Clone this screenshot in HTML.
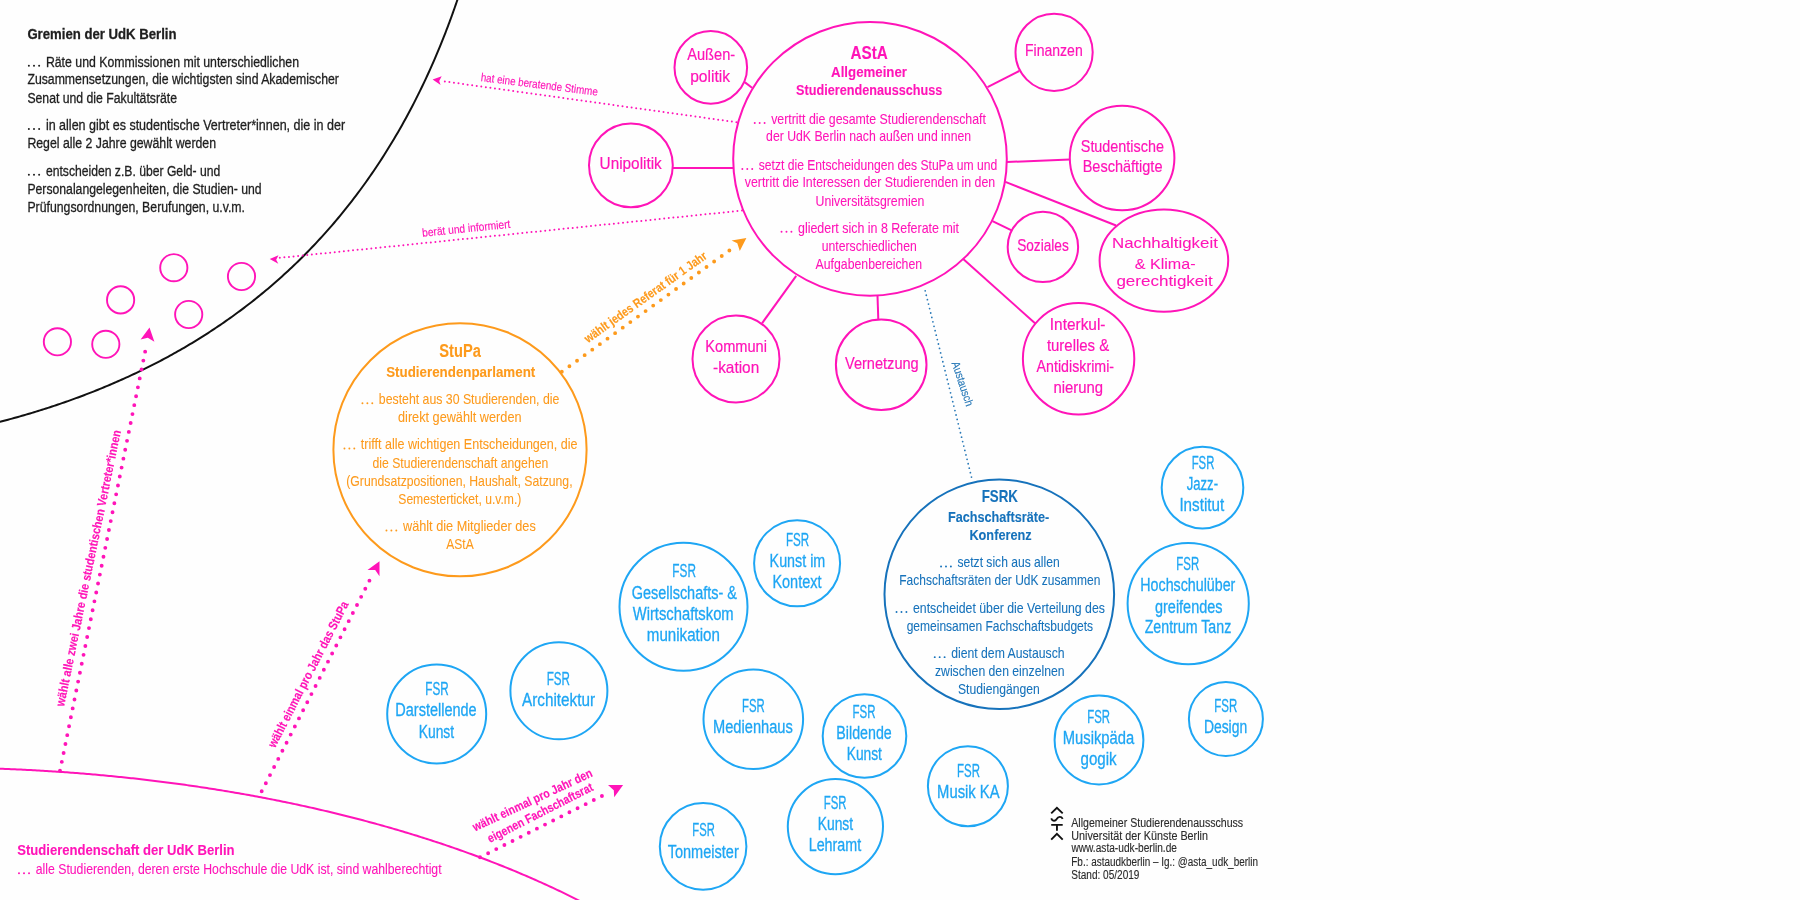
<!DOCTYPE html>
<html><head><meta charset="utf-8"><title>Gremien der UdK Berlin</title>
<style>
html,body{margin:0;padding:0;background:#fff;}
body{width:1800px;height:900px;overflow:hidden;}
svg{display:block;font-family:"Liberation Sans", sans-serif;will-change:transform;}
</style></head><body>
<svg width="1800" height="900" viewBox="0 0 1800 900">
<rect width="1800" height="900" fill="#fefefe"/>
<path d="M460.00,-7.92 L459.50,-6.41 L459.00,-4.91 L458.50,-3.42 L458.00,-1.93 L457.50,-0.46 L457.00,1.01 L456.50,2.47 L456.00,3.92 L455.50,5.36 L455.00,6.79 L454.50,8.22 L454.00,9.63 L453.50,11.04 L453.00,12.44 L452.50,13.84 L452.00,15.22 L451.50,16.60 L451.00,17.97 L450.50,19.33 L450.00,20.68 L449.50,22.03 L449.00,23.37 L448.50,24.70 L448.00,26.03 L447.50,27.35 L447.00,28.66 L446.50,29.96 L446.00,31.26 L445.50,32.55 L445.00,33.84 L444.50,35.11 L444.00,36.39 L443.50,37.65 L443.00,38.91 L442.50,40.16 L442.00,41.41 L441.50,42.65 L441.00,43.88 L440.50,45.11 L440.00,46.33 L438.00,51.16 L436.00,55.90 L434.00,60.55 L432.00,65.11 L430.00,69.59 L428.00,74.00 L426.00,78.33 L424.00,82.58 L422.00,86.77 L420.00,90.88 L418.00,94.93 L416.00,98.91 L414.00,102.84 L412.00,106.70 L410.00,110.50 L408.00,114.24 L406.00,117.93 L404.00,121.56 L402.00,125.15 L400.00,128.68 L398.00,132.16 L396.00,135.59 L394.00,138.97 L392.00,142.31 L390.00,145.60 L388.00,148.85 L386.00,152.06 L384.00,155.22 L382.00,158.35 L380.00,161.43 L378.00,164.47 L376.00,167.48 L374.00,170.45 L372.00,173.38 L370.00,176.27 L368.00,179.13 L366.00,181.96 L364.00,184.75 L362.00,187.51 L360.00,190.23 L358.00,192.92 L356.00,195.59 L354.00,198.22 L352.00,200.82 L350.00,203.39 L348.00,205.94 L346.00,208.45 L344.00,210.94 L342.00,213.40 L340.00,215.83 L338.00,218.24 L336.00,220.62 L334.00,222.98 L332.00,225.31 L330.00,227.61 L328.00,229.89 L326.00,232.15 L324.00,234.38 L322.00,236.59 L320.00,238.78 L318.00,240.94 L316.00,243.09 L314.00,245.21 L312.00,247.31 L310.00,249.38 L308.00,251.44 L306.00,253.48 L304.00,255.49 L302.00,257.49 L300.00,259.47 L298.00,261.43 L296.00,263.37 L294.00,265.29 L292.00,267.19 L290.00,269.07 L288.00,270.94 L286.00,272.78 L284.00,274.61 L282.00,276.42 L280.00,278.22 L278.00,280.00 L276.00,281.76 L274.00,283.50 L272.00,285.23 L270.00,286.95 L268.00,288.64 L266.00,290.33 L264.00,291.99 L262.00,293.64 L260.00,295.28 L258.00,296.90 L256.00,298.50 L254.00,300.10 L252.00,301.67 L250.00,303.24 L248.00,304.78 L246.00,306.32 L244.00,307.84 L242.00,309.35 L240.00,310.84 L238.00,312.32 L236.00,313.79 L234.00,315.24 L232.00,316.69 L230.00,318.12 L228.00,319.53 L226.00,320.94 L224.00,322.33 L222.00,323.71 L220.00,325.08 L218.00,326.43 L216.00,327.78 L214.00,329.11 L212.00,330.43 L210.00,331.74 L208.00,333.04 L206.00,334.32 L204.00,335.60 L202.00,336.86 L200.00,338.12 L198.00,339.36 L196.00,340.59 L194.00,341.81 L192.00,343.02 L190.00,344.23 L188.00,345.42 L186.00,346.60 L184.00,347.77 L182.00,348.93 L180.00,350.08 L178.00,351.22 L176.00,352.35 L174.00,353.47 L172.00,354.58 L170.00,355.69 L168.00,356.78 L166.00,357.86 L164.00,358.94 L162.00,360.00 L160.00,361.06 L158.00,362.11 L156.00,363.15 L154.00,364.18 L152.00,365.20 L150.00,366.21 L148.00,367.21 L146.00,368.21 L144.00,369.19 L142.00,370.17 L140.00,371.14 L138.00,372.11 L136.00,373.06 L134.00,374.01 L132.00,374.94 L130.00,375.87 L128.00,376.80 L126.00,377.71 L124.00,378.62 L122.00,379.51 L120.00,380.41 L118.00,381.29 L116.00,382.16 L114.00,383.03 L112.00,383.89 L110.00,384.75 L108.00,385.59 L106.00,386.43 L104.00,387.26 L102.00,388.09 L100.00,388.91 L98.00,389.72 L96.00,390.52 L94.00,391.32 L92.00,392.11 L90.00,392.89 L88.00,393.67 L86.00,394.44 L84.00,395.20 L82.00,395.96 L80.00,396.71 L78.00,397.45 L76.00,398.18 L74.00,398.92 L72.00,399.64 L70.00,400.36 L68.00,401.07 L66.00,401.77 L64.00,402.47 L62.00,403.16 L60.00,403.85 L58.00,404.53 L56.00,405.20 L54.00,405.87 L52.00,406.54 L50.00,407.19 L48.00,407.84 L46.00,408.49 L44.00,409.13 L42.00,409.76 L40.00,410.39 L38.00,411.01 L36.00,411.62 L34.00,412.23 L32.00,412.84 L30.00,413.44 L28.00,414.03 L26.00,414.62 L24.00,415.20 L22.00,415.78 L20.00,416.35 L18.00,416.92 L16.00,417.48 L14.00,418.04 L12.00,418.59 L10.00,419.13 L8.00,419.67 L6.00,420.21 L4.00,420.74 L2.00,421.26 L0.00,421.78 L-2.00,422.30 L-4.00,422.81" fill="none" stroke="#111" stroke-width="2" stroke-linejoin="round"/>
<path d="M-5.00,768.53 L-3.00,768.60 L-1.00,768.67 L1.00,768.74 L3.00,768.82 L5.00,768.90 L7.00,768.98 L9.00,769.06 L11.00,769.15 L13.00,769.23 L15.00,769.32 L17.00,769.41 L19.00,769.50 L21.00,769.60 L23.00,769.70 L25.00,769.79 L27.00,769.90 L29.00,770.00 L31.00,770.10 L33.00,770.21 L35.00,770.32 L37.00,770.43 L39.00,770.55 L41.00,770.66 L43.00,770.78 L45.00,770.90 L47.00,771.02 L49.00,771.15 L51.00,771.28 L53.00,771.41 L55.00,771.54 L57.00,771.67 L59.00,771.80 L61.00,771.94 L63.00,772.08 L65.00,772.22 L67.00,772.37 L69.00,772.51 L71.00,772.66 L73.00,772.81 L75.00,772.97 L77.00,773.12 L79.00,773.28 L81.00,773.44 L83.00,773.60 L85.00,773.76 L87.00,773.93 L89.00,774.10 L91.00,774.27 L93.00,774.44 L95.00,774.61 L97.00,774.79 L99.00,774.97 L101.00,775.15 L103.00,775.34 L105.00,775.52 L107.00,775.71 L109.00,775.90 L111.00,776.09 L113.00,776.29 L115.00,776.49 L117.00,776.68 L119.00,776.89 L121.00,777.09 L123.00,777.30 L125.00,777.51 L127.00,777.72 L129.00,777.93 L131.00,778.15 L133.00,778.36 L135.00,778.58 L137.00,778.81 L139.00,779.03 L141.00,779.26 L143.00,779.49 L145.00,779.72 L147.00,779.95 L149.00,780.19 L151.00,780.43 L153.00,780.67 L155.00,780.91 L157.00,781.16 L159.00,781.40 L161.00,781.66 L163.00,781.91 L165.00,782.16 L167.00,782.42 L169.00,782.68 L171.00,782.94 L173.00,783.21 L175.00,783.47 L177.00,783.74 L179.00,784.02 L181.00,784.29 L183.00,784.57 L185.00,784.85 L187.00,785.13 L189.00,785.41 L191.00,785.70 L193.00,785.99 L195.00,786.28 L197.00,786.57 L199.00,786.87 L201.00,787.17 L203.00,787.47 L205.00,787.77 L207.00,788.08 L209.00,788.39 L211.00,788.70 L213.00,789.01 L215.00,789.33 L217.00,789.65 L219.00,789.97 L221.00,790.30 L223.00,790.62 L225.00,790.95 L227.00,791.28 L229.00,791.62 L231.00,791.95 L233.00,792.29 L235.00,792.64 L237.00,792.98 L239.00,793.33 L241.00,793.68 L243.00,794.03 L245.00,794.39 L247.00,794.74 L249.00,795.10 L251.00,795.47 L253.00,795.83 L255.00,796.20 L257.00,796.57 L259.00,796.95 L261.00,797.32 L263.00,797.70 L265.00,798.08 L267.00,798.47 L269.00,798.86 L271.00,799.25 L273.00,799.64 L275.00,800.03 L277.00,800.43 L279.00,800.83 L281.00,801.24 L283.00,801.65 L285.00,802.05 L287.00,802.47 L289.00,802.88 L291.00,803.30 L293.00,803.72 L295.00,804.14 L297.00,804.57 L299.00,805.00 L301.00,805.43 L303.00,805.87 L305.00,806.31 L307.00,806.75 L309.00,807.19 L311.00,807.64 L313.00,808.09 L315.00,808.54 L317.00,809.00 L319.00,809.45 L321.00,809.92 L323.00,810.38 L325.00,810.85 L327.00,811.32 L329.00,811.79 L331.00,812.27 L333.00,812.75 L335.00,813.23 L337.00,813.72 L339.00,814.21 L341.00,814.70 L343.00,815.20 L345.00,815.69 L347.00,816.19 L349.00,816.70 L351.00,817.21 L353.00,817.72 L355.00,818.23 L357.00,818.75 L359.00,819.27 L361.00,819.79 L363.00,820.32 L365.00,820.85 L367.00,821.39 L369.00,821.92 L371.00,822.46 L373.00,823.01 L375.00,823.55 L377.00,824.10 L379.00,824.66 L381.00,825.21 L383.00,825.77 L385.00,826.34 L387.00,826.90 L389.00,827.48 L391.00,828.05 L393.00,828.63 L395.00,829.21 L397.00,829.79 L399.00,830.38 L401.00,830.97 L403.00,831.57 L405.00,832.17 L407.00,832.77 L409.00,833.37 L411.00,833.98 L413.00,834.60 L415.00,835.21 L417.00,835.83 L419.00,836.46 L421.00,837.09 L423.00,837.72 L425.00,838.35 L427.00,838.99 L429.00,839.63 L431.00,840.28 L433.00,840.93 L435.00,841.59 L437.00,842.24 L439.00,842.91 L441.00,843.57 L443.00,844.24 L445.00,844.92 L447.00,845.59 L449.00,846.28 L451.00,846.96 L453.00,847.65 L455.00,848.35 L457.00,849.05 L459.00,849.75 L461.00,850.45 L463.00,851.16 L465.00,851.88 L467.00,852.60 L469.00,853.32 L471.00,854.05 L473.00,854.78 L475.00,855.52 L477.00,856.26 L479.00,857.00 L481.00,857.75 L483.00,858.51 L485.00,859.27 L487.00,860.03 L489.00,860.80 L491.00,861.57 L493.00,862.34 L495.00,863.12 L497.00,863.91 L499.00,864.70 L501.00,865.50 L503.00,866.30 L505.00,867.10 L507.00,867.91 L509.00,868.72 L511.00,869.54 L513.00,870.37 L515.00,871.20 L517.00,872.03 L519.00,872.87 L521.00,873.71 L523.00,874.56 L525.00,875.42 L527.00,876.28 L529.00,877.14 L531.00,878.01 L533.00,878.89 L535.00,879.77 L537.00,880.65 L539.00,881.54 L541.00,882.44 L543.00,883.34 L545.00,884.25 L547.00,885.16 L549.00,886.08 L551.00,887.01 L553.00,887.94 L555.00,888.87 L557.00,889.82 L559.00,890.76 L561.00,891.72 L563.00,892.68 L565.00,893.64 L567.00,894.62 L569.00,895.59 L571.00,896.58 L573.00,897.57 L575.00,898.56 L577.00,899.57 L579.00,900.58 L581.00,901.59 L583.00,902.62 L585.00,903.65 L587.00,904.68 L589.00,905.72 L591.00,906.77 L593.00,907.83 L595.00,908.89 L597.00,909.96 L599.00,911.04" fill="none" stroke="#ff14b8" stroke-width="2" stroke-linejoin="round"/>
<text x="27.40" y="39.00" font-size="15" font-weight="bold" fill="#1e1e1e" stroke="#1e1e1e" stroke-width="0.3" textLength="149.13" lengthAdjust="spacingAndGlyphs">Gremien der UdK Berlin</text>
<circle cx="28.90" cy="65.80" r="1.00" fill="#1e1e1e"/>
<circle cx="34.00" cy="65.80" r="1.00" fill="#1e1e1e"/>
<circle cx="39.10" cy="65.80" r="1.00" fill="#1e1e1e"/>
<text x="45.90" y="66.70" font-size="14.7" fill="#1e1e1e" stroke="#1e1e1e" stroke-width="0.3" textLength="253.11" lengthAdjust="spacingAndGlyphs">Räte und Kommissionen mit unterschiedlichen</text>
<text x="27.40" y="84.40" font-size="14.7" fill="#1e1e1e" stroke="#1e1e1e" stroke-width="0.3" textLength="311.50" lengthAdjust="spacingAndGlyphs">Zusammensetzungen, die wichtigsten sind Akademischer</text>
<text x="27.40" y="102.50" font-size="14.7" fill="#1e1e1e" stroke="#1e1e1e" stroke-width="0.3" textLength="149.58" lengthAdjust="spacingAndGlyphs">Senat und die Fakultätsräte</text>
<circle cx="28.90" cy="129.10" r="1.00" fill="#1e1e1e"/>
<circle cx="34.00" cy="129.10" r="1.00" fill="#1e1e1e"/>
<circle cx="39.10" cy="129.10" r="1.00" fill="#1e1e1e"/>
<text x="45.90" y="130.00" font-size="14.7" fill="#1e1e1e" stroke="#1e1e1e" stroke-width="0.3" textLength="299.18" lengthAdjust="spacingAndGlyphs">in allen gibt es studentische Vertreter*innen, die in der</text>
<text x="27.40" y="147.90" font-size="14.7" fill="#1e1e1e" stroke="#1e1e1e" stroke-width="0.3" textLength="188.63" lengthAdjust="spacingAndGlyphs">Regel alle 2 Jahre gewählt werden</text>
<circle cx="28.90" cy="174.80" r="1.00" fill="#1e1e1e"/>
<circle cx="34.00" cy="174.80" r="1.00" fill="#1e1e1e"/>
<circle cx="39.10" cy="174.80" r="1.00" fill="#1e1e1e"/>
<text x="45.90" y="175.70" font-size="14.7" fill="#1e1e1e" stroke="#1e1e1e" stroke-width="0.3" textLength="174.42" lengthAdjust="spacingAndGlyphs">entscheiden z.B. über Geld- und</text>
<text x="27.40" y="193.60" font-size="14.7" fill="#1e1e1e" stroke="#1e1e1e" stroke-width="0.3" textLength="234.27" lengthAdjust="spacingAndGlyphs">Personalangelegenheiten, die Studien- und</text>
<text x="27.40" y="211.50" font-size="14.7" fill="#1e1e1e" stroke="#1e1e1e" stroke-width="0.3" textLength="217.61" lengthAdjust="spacingAndGlyphs">Prüfungsordnungen, Berufungen, u.v.m.</text>
<circle cx="57.4" cy="341.8" r="13.6" fill="none" stroke="#ff14b8" stroke-width="1.9"/>
<circle cx="105.8" cy="344.3" r="13.6" fill="none" stroke="#ff14b8" stroke-width="1.9"/>
<circle cx="120.6" cy="299.9" r="13.6" fill="none" stroke="#ff14b8" stroke-width="1.9"/>
<circle cx="173.8" cy="267.7" r="13.6" fill="none" stroke="#ff14b8" stroke-width="1.9"/>
<circle cx="188.7" cy="314.5" r="13.6" fill="none" stroke="#ff14b8" stroke-width="1.9"/>
<circle cx="241.5" cy="276.5" r="13.6" fill="none" stroke="#ff14b8" stroke-width="1.9"/>
<circle cx="870" cy="158.9" r="136.8" fill="none" stroke="#ff14b8" stroke-width="2"/>
<text x="850.60" y="58.60" font-size="17.5" font-weight="bold" fill="#ff14b8" stroke="#ff14b8" stroke-width="0.1" textLength="37.28" lengthAdjust="spacingAndGlyphs">AStA</text>
<text x="831.10" y="76.70" font-size="14.5" font-weight="bold" fill="#ff14b8" stroke="#ff14b8" stroke-width="0.1" textLength="75.90" lengthAdjust="spacingAndGlyphs">Allgemeiner</text>
<text x="796.10" y="94.60" font-size="14.5" font-weight="bold" fill="#ff14b8" stroke="#ff14b8" stroke-width="0.1" textLength="146.21" lengthAdjust="spacingAndGlyphs">Studierendenausschuss</text>
<circle cx="754.75" cy="123.03" r="0.97" fill="#ff14b8"/>
<circle cx="759.68" cy="123.03" r="0.97" fill="#ff14b8"/>
<circle cx="764.60" cy="123.03" r="0.97" fill="#ff14b8"/>
<text x="771.17" y="123.90" font-size="14.2" fill="#ff14b8" stroke="#ff14b8" stroke-width="0.08" textLength="214.77" lengthAdjust="spacingAndGlyphs">vertritt die gesamte Studierendenschaft</text>
<text x="766.10" y="141.40" font-size="14.2" fill="#ff14b8" stroke="#ff14b8" stroke-width="0.08" textLength="205.00" lengthAdjust="spacingAndGlyphs">der UdK Berlin nach außen und innen</text>
<circle cx="742.35" cy="168.93" r="0.97" fill="#ff14b8"/>
<circle cx="747.28" cy="168.93" r="0.97" fill="#ff14b8"/>
<circle cx="752.20" cy="168.93" r="0.97" fill="#ff14b8"/>
<text x="758.77" y="169.80" font-size="14.2" fill="#ff14b8" stroke="#ff14b8" stroke-width="0.08" textLength="238.47" lengthAdjust="spacingAndGlyphs">setzt die Entscheidungen des StuPa um und</text>
<text x="744.80" y="187.30" font-size="14.2" fill="#ff14b8" stroke="#ff14b8" stroke-width="0.08" textLength="250.41" lengthAdjust="spacingAndGlyphs">vertritt die Interessen der Studierenden in den</text>
<text x="815.60" y="205.60" font-size="14.2" fill="#ff14b8" stroke="#ff14b8" stroke-width="0.08" textLength="108.78" lengthAdjust="spacingAndGlyphs">Universitätsgremien</text>
<circle cx="781.55" cy="231.83" r="0.97" fill="#ff14b8"/>
<circle cx="786.48" cy="231.83" r="0.97" fill="#ff14b8"/>
<circle cx="791.40" cy="231.83" r="0.97" fill="#ff14b8"/>
<text x="797.97" y="232.70" font-size="14.2" fill="#ff14b8" stroke="#ff14b8" stroke-width="0.08" textLength="161.02" lengthAdjust="spacingAndGlyphs">gliedert sich in 8 Referate mit</text>
<text x="821.80" y="250.70" font-size="14.2" fill="#ff14b8" stroke="#ff14b8" stroke-width="0.08" textLength="94.91" lengthAdjust="spacingAndGlyphs">unterschiedlichen</text>
<text x="815.60" y="268.90" font-size="14.2" fill="#ff14b8" stroke="#ff14b8" stroke-width="0.08" textLength="106.47" lengthAdjust="spacingAndGlyphs">Aufgabenbereichen</text>
<circle cx="710.8" cy="67.4" r="36.3" fill="none" stroke="#ff14b8" stroke-width="2"/>
<circle cx="630.9" cy="165.3" r="41.9" fill="none" stroke="#ff14b8" stroke-width="2"/>
<circle cx="1054.1" cy="52.3" r="38.6" fill="none" stroke="#ff14b8" stroke-width="2"/>
<circle cx="1122.1" cy="158" r="52.3" fill="none" stroke="#ff14b8" stroke-width="2"/>
<circle cx="1042.9" cy="246.9" r="35.2" fill="none" stroke="#ff14b8" stroke-width="2"/>
<ellipse cx="1163.9" cy="260.6" rx="64.3" ry="51.1" fill="none" stroke="#ff14b8" stroke-width="2"/>
<circle cx="736" cy="359" r="43.5" fill="none" stroke="#ff14b8" stroke-width="2"/>
<circle cx="881.2" cy="364.8" r="45.3" fill="none" stroke="#ff14b8" stroke-width="2"/>
<circle cx="1078.6" cy="358.8" r="55.7" fill="none" stroke="#ff14b8" stroke-width="2"/>
<line x1="745" y1="82.4" x2="752" y2="87.7" stroke="#ff14b8" stroke-width="2"/>
<line x1="673" y1="167.9" x2="733" y2="167.9" stroke="#ff14b8" stroke-width="2"/>
<line x1="987.5" y1="87.1" x2="1019.2" y2="71" stroke="#ff14b8" stroke-width="2"/>
<line x1="1007" y1="162" x2="1069.8" y2="159.5" stroke="#ff14b8" stroke-width="2"/>
<line x1="1005.3" y1="181.9" x2="1116.1" y2="225.5" stroke="#ff14b8" stroke-width="2"/>
<line x1="992.5" y1="221.2" x2="1011.6" y2="230.4" stroke="#ff14b8" stroke-width="2"/>
<line x1="963.2" y1="258.9" x2="1035.6" y2="323.8" stroke="#ff14b8" stroke-width="2"/>
<line x1="796.2" y1="275.8" x2="762" y2="323.3" stroke="#ff14b8" stroke-width="2"/>
<line x1="877.5" y1="295.8" x2="878.3" y2="319.5" stroke="#ff14b8" stroke-width="2"/>
<text x="687.20" y="60.40" font-size="17" fill="#ff14b8" stroke="#ff14b8" stroke-width="0.2" textLength="47.94" lengthAdjust="spacingAndGlyphs">Außen-</text>
<text x="690.20" y="81.60" font-size="17" fill="#ff14b8" stroke="#ff14b8" stroke-width="0.2" textLength="39.87" lengthAdjust="spacingAndGlyphs">politik</text>
<text x="599.60" y="169.10" font-size="17" fill="#ff14b8" stroke="#ff14b8" stroke-width="0.2" textLength="62.18" lengthAdjust="spacingAndGlyphs">Unipolitik</text>
<text x="1025.00" y="55.90" font-size="17" fill="#ff14b8" stroke="#ff14b8" stroke-width="0.2" textLength="57.73" lengthAdjust="spacingAndGlyphs">Finanzen</text>
<text x="1080.80" y="151.50" font-size="17" fill="#ff14b8" stroke="#ff14b8" stroke-width="0.2" textLength="83.09" lengthAdjust="spacingAndGlyphs">Studentische</text>
<text x="1082.70" y="171.80" font-size="17" fill="#ff14b8" stroke="#ff14b8" stroke-width="0.2" textLength="79.77" lengthAdjust="spacingAndGlyphs">Beschäftigte</text>
<text x="1017.20" y="250.90" font-size="17" fill="#ff14b8" stroke="#ff14b8" stroke-width="0.2" textLength="51.56" lengthAdjust="spacingAndGlyphs">Soziales</text>
<text x="705.30" y="352.20" font-size="17" fill="#ff14b8" stroke="#ff14b8" stroke-width="0.2" textLength="61.70" lengthAdjust="spacingAndGlyphs">Kommuni</text>
<text x="713.00" y="373.00" font-size="17" fill="#ff14b8" stroke="#ff14b8" stroke-width="0.2" textLength="46.22" lengthAdjust="spacingAndGlyphs">-kation</text>
<text x="845.00" y="368.70" font-size="17" fill="#ff14b8" stroke="#ff14b8" stroke-width="0.2" textLength="73.71" lengthAdjust="spacingAndGlyphs">Vernetzung</text>
<text x="1049.80" y="330.10" font-size="17" fill="#ff14b8" stroke="#ff14b8" stroke-width="0.2" textLength="55.71" lengthAdjust="spacingAndGlyphs">Interkul-</text>
<text x="1046.90" y="351.40" font-size="17" fill="#ff14b8" stroke="#ff14b8" stroke-width="0.2" textLength="62.27" lengthAdjust="spacingAndGlyphs">turelles &amp;</text>
<text x="1036.60" y="371.70" font-size="17" fill="#ff14b8" stroke="#ff14b8" stroke-width="0.2" textLength="77.47" lengthAdjust="spacingAndGlyphs">Antidiskrimi-</text>
<text x="1053.50" y="392.90" font-size="17" fill="#ff14b8" stroke="#ff14b8" stroke-width="0.2" textLength="49.61" lengthAdjust="spacingAndGlyphs">nierung</text>
<text x="1112.00" y="248.20" font-size="15" fill="#ff14b8" stroke="#ff14b8" stroke-width="0.08" textLength="105.82" lengthAdjust="spacingAndGlyphs">Nachhaltigkeit</text>
<text x="1134.80" y="268.70" font-size="15" fill="#ff14b8" stroke="#ff14b8" stroke-width="0.08" textLength="60.77" lengthAdjust="spacingAndGlyphs">&amp; Klima-</text>
<text x="1116.40" y="286.40" font-size="15" fill="#ff14b8" stroke="#ff14b8" stroke-width="0.08" textLength="96.45" lengthAdjust="spacingAndGlyphs">gerechtigkeit</text>
<circle cx="460" cy="449.75" r="126.6" fill="none" stroke="#fd9a1c" stroke-width="2"/>
<text x="439.30" y="356.70" font-size="17.5" font-weight="bold" fill="#fd9a1c" stroke="#fd9a1c" stroke-width="0.1" textLength="41.53" lengthAdjust="spacingAndGlyphs">StuPa</text>
<text x="386.20" y="376.50" font-size="14.5" font-weight="bold" fill="#fd9a1c" stroke="#fd9a1c" stroke-width="0.1" textLength="149.05" lengthAdjust="spacingAndGlyphs">Studierendenparlament</text>
<circle cx="362.45" cy="403.23" r="0.97" fill="#fd9a1c"/>
<circle cx="367.38" cy="403.23" r="0.97" fill="#fd9a1c"/>
<circle cx="372.30" cy="403.23" r="0.97" fill="#fd9a1c"/>
<text x="378.87" y="404.10" font-size="14.2" fill="#fd9a1c" stroke="#fd9a1c" stroke-width="0.08" textLength="180.44" lengthAdjust="spacingAndGlyphs">besteht aus 30 Studierenden, die</text>
<text x="398.00" y="422.10" font-size="14.2" fill="#fd9a1c" stroke="#fd9a1c" stroke-width="0.08" textLength="123.52" lengthAdjust="spacingAndGlyphs">direkt gewählt werden</text>
<circle cx="344.45" cy="448.43" r="0.97" fill="#fd9a1c"/>
<circle cx="349.38" cy="448.43" r="0.97" fill="#fd9a1c"/>
<circle cx="354.30" cy="448.43" r="0.97" fill="#fd9a1c"/>
<text x="360.87" y="449.30" font-size="14.2" fill="#fd9a1c" stroke="#fd9a1c" stroke-width="0.08" textLength="216.65" lengthAdjust="spacingAndGlyphs">trifft alle wichtigen Entscheidungen, die</text>
<text x="372.50" y="467.60" font-size="14.2" fill="#fd9a1c" stroke="#fd9a1c" stroke-width="0.08" textLength="175.78" lengthAdjust="spacingAndGlyphs">die Studierendenschaft angehen</text>
<text x="346.30" y="485.60" font-size="14.2" fill="#fd9a1c" stroke="#fd9a1c" stroke-width="0.08" textLength="226.24" lengthAdjust="spacingAndGlyphs">(Grundsatzpositionen, Haushalt, Satzung,</text>
<text x="398.30" y="503.90" font-size="14.2" fill="#fd9a1c" stroke="#fd9a1c" stroke-width="0.08" textLength="123.03" lengthAdjust="spacingAndGlyphs">Semesterticket, u.v.m.)</text>
<circle cx="386.45" cy="530.53" r="0.97" fill="#fd9a1c"/>
<circle cx="391.38" cy="530.53" r="0.97" fill="#fd9a1c"/>
<circle cx="396.30" cy="530.53" r="0.97" fill="#fd9a1c"/>
<text x="402.96" y="531.40" font-size="14.2" fill="#fd9a1c" stroke="#fd9a1c" stroke-width="0.08" textLength="132.82" lengthAdjust="spacingAndGlyphs">wählt die Mitglieder des</text>
<text x="446.30" y="549.30" font-size="14.2" fill="#fd9a1c" stroke="#fd9a1c" stroke-width="0.08" textLength="27.37" lengthAdjust="spacingAndGlyphs">AStA</text>
<circle cx="999.3" cy="594.3" r="114.8" fill="none" stroke="#1672bb" stroke-width="2"/>
<text x="981.70" y="502.10" font-size="17" font-weight="bold" fill="#1672bb" stroke="#1672bb" stroke-width="0.1" textLength="36.28" lengthAdjust="spacingAndGlyphs">FSRK</text>
<text x="947.90" y="521.50" font-size="14.5" font-weight="bold" fill="#1672bb" stroke="#1672bb" stroke-width="0.1" textLength="101.44" lengthAdjust="spacingAndGlyphs">Fachschaftsräte-</text>
<text x="969.40" y="539.60" font-size="14.5" font-weight="bold" fill="#1672bb" stroke="#1672bb" stroke-width="0.1" textLength="62.29" lengthAdjust="spacingAndGlyphs">Konferenz</text>
<circle cx="941.05" cy="566.43" r="0.97" fill="#1672bb"/>
<circle cx="945.98" cy="566.43" r="0.97" fill="#1672bb"/>
<circle cx="950.90" cy="566.43" r="0.97" fill="#1672bb"/>
<text x="957.47" y="567.30" font-size="14.2" fill="#1672bb" stroke="#1672bb" stroke-width="0.08" textLength="102.20" lengthAdjust="spacingAndGlyphs">setzt sich aus allen</text>
<text x="899.30" y="585.30" font-size="14.2" fill="#1672bb" stroke="#1672bb" stroke-width="0.08" textLength="201.03" lengthAdjust="spacingAndGlyphs">Fachschaftsräten der UdK zusammen</text>
<circle cx="896.55" cy="611.93" r="0.97" fill="#1672bb"/>
<circle cx="901.48" cy="611.93" r="0.97" fill="#1672bb"/>
<circle cx="906.40" cy="611.93" r="0.97" fill="#1672bb"/>
<text x="912.97" y="612.80" font-size="14.2" fill="#1672bb" stroke="#1672bb" stroke-width="0.08" textLength="191.95" lengthAdjust="spacingAndGlyphs">entscheidet über die Verteilung des</text>
<text x="906.70" y="630.90" font-size="14.2" fill="#1672bb" stroke="#1672bb" stroke-width="0.08" textLength="186.41" lengthAdjust="spacingAndGlyphs">gemeinsamen Fachschaftsbudgets</text>
<circle cx="934.75" cy="657.13" r="0.97" fill="#1672bb"/>
<circle cx="939.68" cy="657.13" r="0.97" fill="#1672bb"/>
<circle cx="944.60" cy="657.13" r="0.97" fill="#1672bb"/>
<text x="951.17" y="658.00" font-size="14.2" fill="#1672bb" stroke="#1672bb" stroke-width="0.08" textLength="113.45" lengthAdjust="spacingAndGlyphs">dient dem Austausch</text>
<text x="935.00" y="676.00" font-size="14.2" fill="#1672bb" stroke="#1672bb" stroke-width="0.08" textLength="129.58" lengthAdjust="spacingAndGlyphs">zwischen den einzelnen</text>
<text x="958.00" y="694.10" font-size="14.2" fill="#1672bb" stroke="#1672bb" stroke-width="0.08" textLength="81.63" lengthAdjust="spacingAndGlyphs">Studiengängen</text>
<circle cx="683.5" cy="606.8" r="64" fill="none" stroke="#1ea6f4" stroke-width="2"/>
<text x="672.30" y="577.40" font-size="17.5" fill="#1ea6f4" stroke="#1ea6f4" stroke-width="0.3" textLength="23.60" lengthAdjust="spacingAndGlyphs">FSR</text>
<text x="631.70" y="598.70" font-size="17.5" fill="#1ea6f4" stroke="#1ea6f4" stroke-width="0.3" textLength="105.21" lengthAdjust="spacingAndGlyphs">Gesellschafts- &amp;</text>
<text x="632.70" y="619.90" font-size="17.5" fill="#1ea6f4" stroke="#1ea6f4" stroke-width="0.3" textLength="101.00" lengthAdjust="spacingAndGlyphs">Wirtschaftskom</text>
<text x="646.80" y="640.70" font-size="17.5" fill="#1ea6f4" stroke="#1ea6f4" stroke-width="0.3" textLength="73.13" lengthAdjust="spacingAndGlyphs">munikation</text>
<circle cx="797.1" cy="563.3" r="43" fill="none" stroke="#1ea6f4" stroke-width="2"/>
<text x="786.00" y="545.90" font-size="17.5" fill="#1ea6f4" stroke="#1ea6f4" stroke-width="0.3" textLength="23.20" lengthAdjust="spacingAndGlyphs">FSR</text>
<text x="769.60" y="566.60" font-size="17.5" fill="#1ea6f4" stroke="#1ea6f4" stroke-width="0.3" textLength="55.68" lengthAdjust="spacingAndGlyphs">Kunst im</text>
<text x="772.40" y="587.80" font-size="17.5" fill="#1ea6f4" stroke="#1ea6f4" stroke-width="0.3" textLength="49.14" lengthAdjust="spacingAndGlyphs">Kontext</text>
<circle cx="436.7" cy="714" r="49.5" fill="none" stroke="#1ea6f4" stroke-width="2"/>
<text x="425.30" y="695.30" font-size="17.5" fill="#1ea6f4" stroke="#1ea6f4" stroke-width="0.3" textLength="23.40" lengthAdjust="spacingAndGlyphs">FSR</text>
<text x="395.30" y="716.30" font-size="17.5" fill="#1ea6f4" stroke="#1ea6f4" stroke-width="0.3" textLength="81.36" lengthAdjust="spacingAndGlyphs">Darstellende</text>
<text x="418.70" y="738.00" font-size="17.5" fill="#1ea6f4" stroke="#1ea6f4" stroke-width="0.3" textLength="35.46" lengthAdjust="spacingAndGlyphs">Kunst</text>
<circle cx="558.9" cy="690.8" r="48.5" fill="none" stroke="#1ea6f4" stroke-width="2"/>
<text x="546.70" y="685.00" font-size="17.5" fill="#1ea6f4" stroke="#1ea6f4" stroke-width="0.3" textLength="23.30" lengthAdjust="spacingAndGlyphs">FSR</text>
<text x="522.00" y="705.80" font-size="17.5" fill="#1ea6f4" stroke="#1ea6f4" stroke-width="0.3" textLength="73.03" lengthAdjust="spacingAndGlyphs">Architektur</text>
<circle cx="753.3" cy="719.3" r="49.8" fill="none" stroke="#1ea6f4" stroke-width="2"/>
<text x="742.10" y="712.10" font-size="17.5" fill="#1ea6f4" stroke="#1ea6f4" stroke-width="0.3" textLength="22.70" lengthAdjust="spacingAndGlyphs">FSR</text>
<text x="713.00" y="733.10" font-size="17.5" fill="#1ea6f4" stroke="#1ea6f4" stroke-width="0.3" textLength="79.84" lengthAdjust="spacingAndGlyphs">Medienhaus</text>
<circle cx="864.5" cy="736" r="41.8" fill="none" stroke="#1ea6f4" stroke-width="2"/>
<text x="852.50" y="717.90" font-size="17.5" fill="#1ea6f4" stroke="#1ea6f4" stroke-width="0.3" textLength="23.00" lengthAdjust="spacingAndGlyphs">FSR</text>
<text x="836.30" y="739.30" font-size="17.5" fill="#1ea6f4" stroke="#1ea6f4" stroke-width="0.3" textLength="55.51" lengthAdjust="spacingAndGlyphs">Bildende</text>
<text x="846.70" y="760.30" font-size="17.5" fill="#1ea6f4" stroke="#1ea6f4" stroke-width="0.3" textLength="35.26" lengthAdjust="spacingAndGlyphs">Kunst</text>
<circle cx="703.1" cy="846.4" r="43.3" fill="none" stroke="#1ea6f4" stroke-width="2"/>
<text x="692.30" y="836.20" font-size="17.5" fill="#1ea6f4" stroke="#1ea6f4" stroke-width="0.3" textLength="22.50" lengthAdjust="spacingAndGlyphs">FSR</text>
<text x="667.70" y="857.50" font-size="17.5" fill="#1ea6f4" stroke="#1ea6f4" stroke-width="0.3" textLength="71.09" lengthAdjust="spacingAndGlyphs">Tonmeister</text>
<circle cx="835.4" cy="826.6" r="47.6" fill="none" stroke="#1ea6f4" stroke-width="2"/>
<text x="823.70" y="808.75" font-size="17.5" fill="#1ea6f4" stroke="#1ea6f4" stroke-width="0.3" textLength="22.80" lengthAdjust="spacingAndGlyphs">FSR</text>
<text x="817.70" y="830.20" font-size="17.5" fill="#1ea6f4" stroke="#1ea6f4" stroke-width="0.3" textLength="35.46" lengthAdjust="spacingAndGlyphs">Kunst</text>
<text x="808.70" y="851.20" font-size="17.5" fill="#1ea6f4" stroke="#1ea6f4" stroke-width="0.3" textLength="52.50" lengthAdjust="spacingAndGlyphs">Lehramt</text>
<circle cx="967.9" cy="786.2" r="40" fill="none" stroke="#1ea6f4" stroke-width="2"/>
<text x="957.00" y="777.10" font-size="17.5" fill="#1ea6f4" stroke="#1ea6f4" stroke-width="0.3" textLength="22.90" lengthAdjust="spacingAndGlyphs">FSR</text>
<text x="937.10" y="798.10" font-size="17.5" fill="#1ea6f4" stroke="#1ea6f4" stroke-width="0.3" textLength="62.50" lengthAdjust="spacingAndGlyphs">Musik KA</text>
<circle cx="1099" cy="740" r="44.4" fill="none" stroke="#1ea6f4" stroke-width="2"/>
<text x="1087.20" y="722.70" font-size="17.5" fill="#1ea6f4" stroke="#1ea6f4" stroke-width="0.3" textLength="22.80" lengthAdjust="spacingAndGlyphs">FSR</text>
<text x="1062.80" y="743.70" font-size="17.5" fill="#1ea6f4" stroke="#1ea6f4" stroke-width="0.3" textLength="71.44" lengthAdjust="spacingAndGlyphs">Musikpäda</text>
<text x="1080.50" y="764.60" font-size="17.5" fill="#1ea6f4" stroke="#1ea6f4" stroke-width="0.3" textLength="36.14" lengthAdjust="spacingAndGlyphs">gogik</text>
<circle cx="1202.5" cy="487.6" r="40.8" fill="none" stroke="#1ea6f4" stroke-width="2"/>
<text x="1191.70" y="468.70" font-size="17.5" fill="#1ea6f4" stroke="#1ea6f4" stroke-width="0.3" textLength="22.70" lengthAdjust="spacingAndGlyphs">FSR</text>
<text x="1186.70" y="490.00" font-size="17.5" fill="#1ea6f4" stroke="#1ea6f4" stroke-width="0.3" textLength="31.31" lengthAdjust="spacingAndGlyphs">Jazz-</text>
<text x="1179.40" y="511.10" font-size="17.5" fill="#1ea6f4" stroke="#1ea6f4" stroke-width="0.3" textLength="44.76" lengthAdjust="spacingAndGlyphs">Institut</text>
<circle cx="1188.2" cy="603.6" r="60.6" fill="none" stroke="#1ea6f4" stroke-width="2"/>
<text x="1176.30" y="570.00" font-size="17.5" fill="#1ea6f4" stroke="#1ea6f4" stroke-width="0.3" textLength="22.90" lengthAdjust="spacingAndGlyphs">FSR</text>
<text x="1140.30" y="590.80" font-size="17.5" fill="#1ea6f4" stroke="#1ea6f4" stroke-width="0.3" textLength="95.03" lengthAdjust="spacingAndGlyphs">Hochschulüber</text>
<text x="1155.00" y="612.50" font-size="17.5" fill="#1ea6f4" stroke="#1ea6f4" stroke-width="0.3" textLength="67.52" lengthAdjust="spacingAndGlyphs">greifendes</text>
<text x="1144.70" y="633.00" font-size="17.5" fill="#1ea6f4" stroke="#1ea6f4" stroke-width="0.3" textLength="86.57" lengthAdjust="spacingAndGlyphs">Zentrum Tanz</text>
<circle cx="1225.9" cy="719" r="37" fill="none" stroke="#1ea6f4" stroke-width="2"/>
<text x="1214.20" y="712.20" font-size="17.5" fill="#1ea6f4" stroke="#1ea6f4" stroke-width="0.3" textLength="23.00" lengthAdjust="spacingAndGlyphs">FSR</text>
<text x="1203.90" y="733.30" font-size="17.5" fill="#1ea6f4" stroke="#1ea6f4" stroke-width="0.3" textLength="43.28" lengthAdjust="spacingAndGlyphs">Design</text>
<text x="1071.30" y="826.90" font-size="12" fill="#2a2a2a" stroke="#2a2a2a" stroke-width="0.12" textLength="171.88" lengthAdjust="spacingAndGlyphs">Allgemeiner Studierendenausschuss</text>
<text x="1071.30" y="839.70" font-size="12" fill="#2a2a2a" stroke="#2a2a2a" stroke-width="0.12" textLength="136.67" lengthAdjust="spacingAndGlyphs">Universität der Künste Berlin</text>
<text x="1071.38" y="852.10" font-size="12" fill="#2a2a2a" stroke="#2a2a2a" stroke-width="0.12" textLength="105.63" lengthAdjust="spacingAndGlyphs">www.asta-udk-berlin.de</text>
<text x="1071.30" y="865.60" font-size="12" fill="#2a2a2a" stroke="#2a2a2a" stroke-width="0.12" textLength="186.63" lengthAdjust="spacingAndGlyphs">Fb.: astaudkberlin – Ig.: @asta_udk_berlin</text>
<text x="1071.30" y="878.90" font-size="12" fill="#2a2a2a" stroke="#2a2a2a" stroke-width="0.12" textLength="68.10" lengthAdjust="spacingAndGlyphs">Stand: 05/2019</text>
<g fill="none" stroke="#111" stroke-width="1.9" stroke-linecap="butt"><path d="M1051.2,813.4 L1056.9,807.9 L1062.7,813.4"/><path d="M1051.2,818.3 C1052.6,821.6 1055.2,821.4 1056.7,819 C1058.2,816.4 1061.2,816.1 1062.7,818.9"/><path d="M1051.2,824.9 L1062.7,824.9 M1056.95,824.9 L1056.95,830.7"/><path d="M1051.2,839.6 L1056.9,833.8 L1062.7,839.6"/></g>
<text x="17.25" y="854.50" font-size="15" font-weight="bold" fill="#ff14b8" stroke="#ff14b8" stroke-width="0.1" textLength="217.35" lengthAdjust="spacingAndGlyphs">Studierendenschaft der UdK Berlin</text>
<circle cx="18.98" cy="873.21" r="0.99" fill="#ff14b8"/>
<circle cx="24.01" cy="873.21" r="0.99" fill="#ff14b8"/>
<circle cx="29.04" cy="873.21" r="0.99" fill="#ff14b8"/>
<text x="35.75" y="874.10" font-size="14.5" fill="#ff14b8" stroke="#ff14b8" stroke-width="0.08" textLength="405.84" lengthAdjust="spacingAndGlyphs">alle Studierenden, deren erste Hochschule die UdK ist, sind wahlberechtigt</text>
<line x1="736.4" y1="122.2" x2="443.1" y2="81.2" stroke="#ff14b8" stroke-width="2" stroke-linecap="round" stroke-dasharray="0 4.6"/>
<path d="M432.60,79.60 L441.70,76.20 L439.20,81.10 L440.60,84.90Z" fill="#ff14b8"/>
<text transform="translate(480.40,81.00) rotate(7.11)" x="-0.00" y="0" font-size="11.5" fill="#ff14b8" stroke="#ff14b8" stroke-width="0.15" textLength="117.89" lengthAdjust="spacingAndGlyphs">hat eine beratende Stimme</text>
<line x1="742" y1="210.6" x2="278" y2="258" stroke="#ff14b8" stroke-width="2" stroke-linecap="round" stroke-dasharray="0 4.6"/>
<path d="M269.70,258.90 L278.50,255.20 L276.20,259.80 L278.30,263.80Z" fill="#ff14b8"/>
<text transform="translate(422.50,236.70) rotate(-5.77)" x="-0.00" y="0" font-size="11.5" fill="#ff14b8" stroke="#ff14b8" stroke-width="0.15" textLength="88.56" lengthAdjust="spacingAndGlyphs">berät und informiert</text>
<line x1="561.8" y1="371.7" x2="731.6" y2="248.9" stroke="#fd9a1c" stroke-width="3.9" stroke-linecap="round" stroke-dasharray="0 9.4"/>
<path d="M746.40,238.00 L731.60,240.40 L737.30,243.30 L739.80,250.90Z" fill="#fd9a1c"/>
<text transform="translate(587.90,343.20) rotate(-35.42)" x="0.08" y="0" font-size="12.5" font-weight="bold" fill="#fd9a1c" stroke="#fd9a1c" stroke-width="0.15" textLength="147.25" lengthAdjust="spacingAndGlyphs">wählt jedes Referat für 1 Jahr</text>
<line x1="60" y1="770.8" x2="146.7" y2="344" stroke="#ff14b8" stroke-width="3.9" stroke-linecap="round" stroke-dasharray="0 9.1"/>
<path d="M149.50,327.40 L154.40,341.70 L147.80,337.80 L140.60,339.40Z" fill="#ff14b8"/>
<text transform="translate(64.00,707.00) rotate(-78.33)" x="0.09" y="0" font-size="12.5" font-weight="bold" fill="#ff14b8" stroke="#ff14b8" stroke-width="0.15" textLength="281.74" lengthAdjust="spacingAndGlyphs">wählt alle zwei Jahre die studentischen Vertreter*innen</text>
<line x1="261.7" y1="791.3" x2="373.2" y2="573.3" stroke="#ff14b8" stroke-width="3.9" stroke-linecap="round" stroke-dasharray="0 9.1"/>
<path d="M379.50,561.30 L379.50,576.30 L375.20,570.10 L367.50,570.00Z" fill="#ff14b8"/>
<text transform="translate(275.00,748.60) rotate(-62.90)" x="0.08" y="0" font-size="12.5" font-weight="bold" fill="#ff14b8" stroke="#ff14b8" stroke-width="0.15" textLength="162.20" lengthAdjust="spacingAndGlyphs">wählt einmal pro Jahr das StuPa</text>
<line x1="480" y1="857.3" x2="609.8" y2="792" stroke="#ff14b8" stroke-width="3.9" stroke-linecap="round" stroke-dasharray="0 9.1"/>
<path d="M623.10,785.00 L614.20,797.30 L613.80,790.20 L608.00,785.10Z" fill="#ff14b8"/>
<text transform="translate(475.00,831.60) rotate(-25.14)" x="0.08" y="0" font-size="12.5" font-weight="bold" fill="#ff14b8" stroke="#ff14b8" stroke-width="0.15" textLength="130.81" lengthAdjust="spacingAndGlyphs">wählt einmal pro Jahr den</text>
<text transform="translate(490.00,843.00) rotate(-27.00)" x="-0.00" y="0" font-size="12.5" font-weight="bold" fill="#ff14b8" stroke="#ff14b8" stroke-width="0.15" textLength="116.75" lengthAdjust="spacingAndGlyphs">eigenen Fachschaftsrat</text>
<line x1="925.2" y1="290.8" x2="972.3" y2="480.4" stroke="#2a7ab8" stroke-width="1.8" stroke-linecap="round" stroke-dasharray="0 4.57"/>
<text transform="translate(951.60,363.00) rotate(71.64)" x="-0.00" y="0" font-size="11.5" fill="#2a7ab8" stroke="#2a7ab8" stroke-width="0.15" textLength="46.36" lengthAdjust="spacingAndGlyphs">Austausch</text>
</svg>
</body></html>
